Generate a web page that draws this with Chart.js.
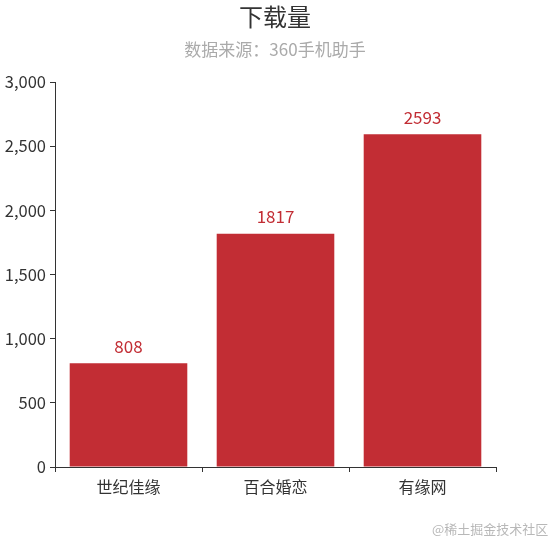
<!DOCTYPE html>
<html>
<head>
<meta charset="utf-8">
<script src="https://cdn.jsdelivr.net/npm/chart.js@4/dist/chart.umd.min.js"></script>
<style>
  html, body { margin: 0; padding: 0; background: #fff; }
  #wrap { position: relative; width: 550px; height: 550px; }
  #wm { position: absolute; left: 432px; top: 519px; font: 13px "Noto Sans CJK SC", sans-serif; color: #b8b8b8; white-space: nowrap; }
</style>
</head>
<body>
<div id="wrap">
  <canvas id="c" width="550" height="550"></canvas>
  <div id="wm">@稀土掘金技术社区</div>
</div>
<script>
const titleText = '下载量';
const subtitleText = '数据来源：360手机助手';
const categories = ['世纪佳缘', '百合婚恋', '有缘网'];
const downloads = [808, 1817, 2593];
const yTicks = [0, 500, 1000, 1500, 2000, 2500, 3000];

const FONT = '"Noto Sans CJK SC", "Noto Sans", sans-serif';
const BAR = '#c22d34';

const headerPlugin = {
  id: 'header',
  afterDraw(chart) {
    const ctx = chart.ctx;
    ctx.save();
    ctx.textAlign = 'center';
    ctx.textBaseline = 'middle';
    ctx.fillStyle = '#333';
    ctx.font = '24px ' + FONT;
    ctx.fillText(titleText, 275, 17);
    ctx.fillStyle = '#aaa';
    ctx.font = '17px ' + FONT;
    ctx.fillText(subtitleText, 275, 50);
    ctx.restore();
  }
};

const valueLabels = {
  id: 'valueLabels',
  afterDatasetsDraw(chart) {
    const ctx = chart.ctx;
    const meta = chart.getDatasetMeta(0);
    ctx.save();
    ctx.textAlign = 'center';
    ctx.textBaseline = 'middle';
    ctx.fillStyle = BAR;
    ctx.font = '17px ' + FONT;
    meta.data.forEach((el, i) => {
      ctx.fillText(String(downloads[i]), el.x, el.y - 17);
    });
    ctx.restore();
  }
};

new Chart(document.getElementById('c'), {
  type: 'bar',
  data: {
    labels: categories,
    datasets: [{
      data: downloads,
      backgroundColor: BAR,
      borderWidth: 0,
      barPercentage: 1,
      categoryPercentage: 0.8
    }]
  },
  options: {
    responsive: false,
    animation: false,
    events: [],
    layout: { padding: { top: 82, right: 54, bottom: 0, left: 0 } },
    plugins: {
      legend: { display: false },
      tooltip: { enabled: false },
      title: { display: false }
    },
    scales: {
      x: {
        grid: { drawOnChartArea: false, drawTicks: true, tickLength: 5, color: '#333', offset: true },
        border: { display: true, color: '#333', width: 1 },
        ticks: { color: '#333', font: { size: 16, family: FONT }, padding: 5 },
        afterFit(s) { s.height = 83; }
      },
      y: {
        min: 0,
        max: 3000,
        afterBuildTicks(s) { s.ticks = yTicks.map(v => ({ value: v })); },
        grid: { drawOnChartArea: false, drawTicks: true, tickLength: 5, color: '#333' },
        border: { display: true, color: '#333', width: 1 },
        ticks: {
          color: '#333',
          font: { size: 16.5, family: FONT },
          padding: 4,
          callback: v => v.toLocaleString('en-US')
        },
        afterFit(s) { s.width = 55; }
      }
    }
  },
  plugins: [headerPlugin, valueLabels]
});
</script>
</body>
</html>
